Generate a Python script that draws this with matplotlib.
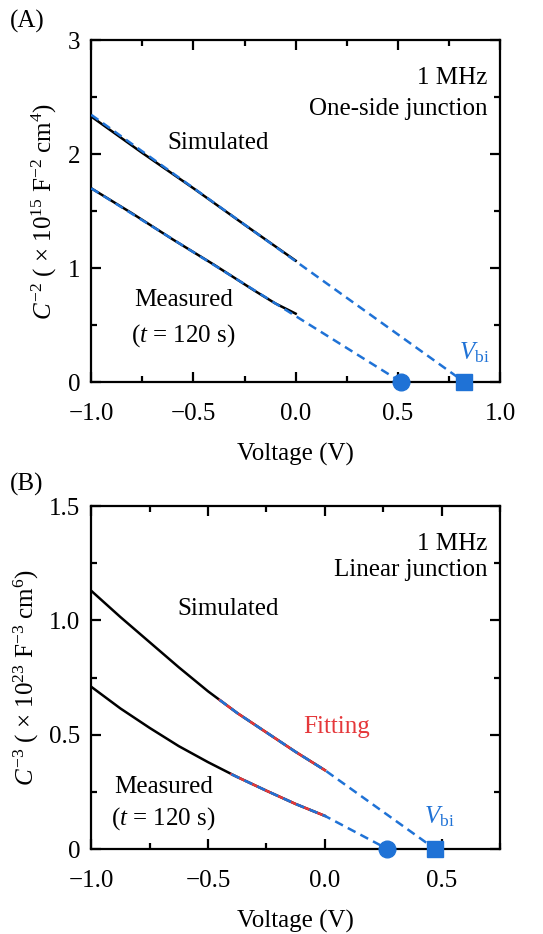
import matplotlib
matplotlib.use('Agg')
import matplotlib.pyplot as plt
from matplotlib.ticker import MultipleLocator

plt.rcParams['font.family'] = ['Liberation Serif', 'DejaVu Serif']
plt.rcParams['mathtext.fontset'] = 'custom'
plt.rcParams['mathtext.rm'] = 'Liberation Serif'
plt.rcParams['mathtext.it'] = 'Liberation Serif:italic'
plt.rcParams['font.size'] = 18

BLUE = '#1f72d6'
RED = '#e5383b'

# (A) C^-2 vs V, one-side junction
a_sim_v = [-1.0, -0.75, -0.5, -0.25, 0.0]
a_sim_c = [2.33, 2.01, 1.70, 1.38, 1.065]
a_meas_v = [-1.0, -0.8, -0.6, -0.4, -0.2, -0.1, -0.05, 0.0]
a_meas_c = [1.70, 1.48, 1.25, 1.03, 0.80, 0.69, 0.645, 0.60]
a_fit_sim_v = [-1.0, 0.825]
a_fit_sim_c = [2.345, 0.0]
a_fit_meas_v = [-1.0, 0.516]
a_fit_meas_c = [1.70, 0.0]
a_vbi_sim = 0.825
a_vbi_meas = 0.516

# (B) C^-3 vs V, linear junction
b_v = [-1.0, -0.875, -0.75, -0.625, -0.5, -0.375, -0.25, -0.125, 0.0]
b_sim_c = [1.13, 1.015, 0.905, 0.795, 0.69, 0.595, 0.51, 0.425, 0.345]
b_meas_c = [0.71, 0.615, 0.53, 0.45, 0.38, 0.315, 0.255, 0.197, 0.145]
b_fit_sim_v = [-0.45, -0.375, -0.25, -0.125, 0.0]
b_fit_sim_c = [0.652, 0.595, 0.51, 0.425, 0.345]
b_fit_meas_v = [-0.4, -0.25, -0.125, 0.0]
b_fit_meas_c = [0.327, 0.255, 0.197, 0.145]
b_vbi_sim = 0.472
b_vbi_meas = 0.268

fig = plt.figure(figsize=(5.43, 9.34), dpi=100)
axA = fig.add_axes([0.168, 0.591, 0.753, 0.366])
axB = fig.add_axes([0.168, 0.091, 0.753, 0.367])


def style(ax):
    for s in ax.spines.values():
        s.set_linewidth(1.6)
    ax.tick_params(which='both', direction='in', top=True, right=True, width=1.6)
    ax.tick_params(which='major', length=7.5)
    ax.tick_params(which='minor', length=4.5)
    ax.tick_params(axis='x', which='major', pad=15)
    ax.tick_params(axis='y', which='major', pad=8)


dash = (0, (3.5, 2.2))

# panel A
axA.plot(a_sim_v, a_sim_c, color='black', lw=1.8, zorder=2)
axA.plot(a_meas_v, a_meas_c, color='black', lw=1.8, zorder=2)
axA.plot(a_fit_sim_v, a_fit_sim_c, color=BLUE, lw=1.8, ls=dash, zorder=3)
axA.plot(a_fit_meas_v, a_fit_meas_c, color=BLUE, lw=1.8, ls=dash, zorder=3)
axA.plot([a_vbi_meas], [0], 'o', color=BLUE, ms=12, clip_on=False, zorder=5)
axA.plot([a_vbi_sim], [0], 's', color=BLUE, ms=11, clip_on=False, zorder=5)
axA.set_xlim(-1, 1)
axA.set_ylim(0, 3)
axA.xaxis.set_minor_locator(MultipleLocator(0.25))
axA.yaxis.set_minor_locator(MultipleLocator(0.5))
axA.set_xticks([-1, -0.5, 0, 0.5, 1])
axA.set_xticklabels(['\u22121.0', '\u22120.5', '0.0', '0.5', '1.0'])
axA.set_yticks([0, 1, 2, 3])
axA.set_yticklabels(['0', '1', '2', '3'])
style(axA)
axA.set_xlabel('Voltage (V)', labelpad=13)
axA.set_ylabel(r'$\mathit{C}^{-2}$ ( $\times$ 10$^{15}$ F$^{-2}$ cm$^{4}$)', labelpad=6)
axA.text(0.968, 0.889, '1 MHz', transform=axA.transAxes, ha='right', va='center')
axA.text(0.968, 0.80, 'One-side junction', transform=axA.transAxes, ha='right', va='center')
axA.text(-0.38, 2.10, 'Simulated', ha='center', va='center')
axA.text(-0.55, 0.72, 'Measured', ha='center', va='center')
axA.text(-0.55, 0.41, '($\\mathit{t}$ = 120 s)', ha='center', va='center')
axA.text(0.80, 0.26, r'$\mathit{V}_{\rm bi}$', color=BLUE, ha='left', va='center')

# panel B
axB.plot(b_v, b_sim_c, color='black', lw=1.8, zorder=2)
axB.plot(b_v, b_meas_c, color='black', lw=1.8, zorder=2)
axB.plot(b_fit_sim_v, b_fit_sim_c, color=RED, lw=1.8, zorder=3)
axB.plot(b_fit_meas_v, b_fit_meas_c, color=RED, lw=1.8, zorder=3)
axB.plot(b_fit_sim_v + [b_vbi_sim], b_fit_sim_c + [0], color=BLUE, lw=1.8, ls=dash, zorder=4)
axB.plot(b_fit_meas_v + [b_vbi_meas], b_fit_meas_c + [0], color=BLUE, lw=1.8, ls=dash, zorder=4)
axB.plot([b_vbi_meas], [0], 'o', color=BLUE, ms=12, clip_on=False, zorder=5)
axB.plot([b_vbi_sim], [0], 's', color=BLUE, ms=11, clip_on=False, zorder=5)
axB.set_xlim(-1, 0.75)
axB.set_ylim(0, 1.5)
axB.xaxis.set_minor_locator(MultipleLocator(0.25))
axB.yaxis.set_minor_locator(MultipleLocator(0.25))
axB.set_xticks([-1, -0.5, 0, 0.5])
axB.set_xticklabels(['\u22121.0', '\u22120.5', '0.0', '0.5'])
axB.set_yticks([0, 0.5, 1.0, 1.5])
axB.set_yticklabels(['0', '0.5', '1.0', '1.5'])
style(axB)
axB.set_xlabel('Voltage (V)', labelpad=13)
axB.set_ylabel(r'$\mathit{C}^{-3}$ ( $\times$ 10$^{23}$ F$^{-3}$ cm$^{6}$)', labelpad=6)
axB.text(0.968, 0.89, '1 MHz', transform=axB.transAxes, ha='right', va='center')
axB.text(0.968, 0.815, 'Linear junction', transform=axB.transAxes, ha='right', va='center')
axB.text(-0.415, 1.05, 'Simulated', ha='center', va='center')
axB.text(0.05, 0.533, 'Fitting', color=RED, ha='center', va='center')
axB.text(-0.69, 0.272, 'Measured', ha='center', va='center')
axB.text(-0.69, 0.135, '($\\mathit{t}$ = 120 s)', ha='center', va='center')
axB.text(0.425, 0.142, r'$\mathit{V}_{\rm bi}$', color=BLUE, ha='left', va='center')

fig.text(0.018, 0.977, '(A)', ha='left', va='center')
fig.text(0.018, 0.481, '(B)', ha='left', va='center')

fig.savefig('out.png', dpi=100)
